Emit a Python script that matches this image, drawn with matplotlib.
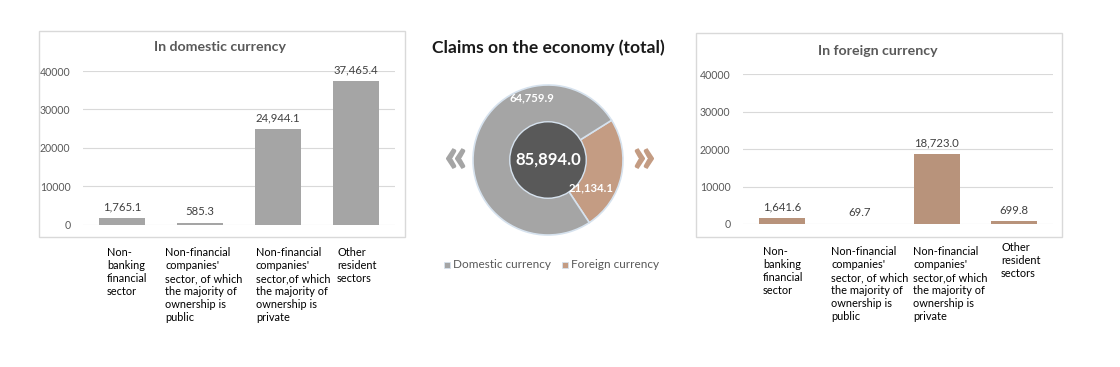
import matplotlib
matplotlib.use("Agg")
import matplotlib.pyplot as plt
from matplotlib.patches import Rectangle, Circle

plt.rcParams['font.family'] = ['Lato', 'DejaVu Sans']

# data
sectors = ["Non-\nbanking\nfinancial\nsector",
           "Non-financial\ncompanies'\nsector, of which\nthe majority of\nownership is\npublic",
           "Non-financial\ncompanies'\nsector,of which\nthe majority of\nownership is\nprivate",
           "Other\nresident\nsectors"]
domestic = [1765.1, 585.3, 24944.1, 37465.4]
foreign = [1641.6, 69.7, 18723.0, 699.8]
total_dom = 64759.9
total_for = 21134.1
total = 85894.0
yticks = [0, 10000, 20000, 30000, 40000]

GRAY = '#A5A5A5'
TAN = '#B8937B'
TAN_PIE = '#C49C83'
TXT = '#595959'

W, H = 1120, 367
fig = plt.figure(figsize=(W / 100, H / 100), dpi=100)


def px_axes(x0, y0, x1, y1):
    # pixel box (top-left origin) -> figure axes
    return fig.add_axes([x0 / W, 1 - y1 / H, (x1 - x0) / W, (y1 - y0) / H])


def box(x0, y0, x1, y1):
    fig.patches.append(Rectangle((x0 / W, 1 - y1 / H), (x1 - x0) / W, (y1 - y0) / H,
                                 transform=fig.transFigure, fill=False,
                                 edgecolor='#D9D9D9', linewidth=1))


def bar_panel(rect, values, color, title, title_xy, label_x, label_y):
    ax = px_axes(*rect)
    xs = range(len(values))
    ax.bar(xs, values, width=0.59, color=color, zorder=3)
    ax.set_xlim(-0.5, len(values) - 0.5)
    ax.set_ylim(0, 40000)
    ax.set_yticks(yticks)
    ax.set_yticklabels([str(t) for t in yticks])
    ax.set_xticks([])
    ax.grid(axis='y', color='#D9D9D9', linewidth=0.8, zorder=0)
    for s in ax.spines.values():
        s.set_visible(False)
    ax.tick_params(axis='y', length=0, labelsize=7.6, labelcolor=TXT, pad=9)
    for x, v in zip(xs, values):
        ax.annotate(f"{v:,.1f}", (x, v), xytext=(0, 4), textcoords='offset points',
                    ha='center', va='bottom', fontsize=8.2, color='#404040')
    fig.text(title_xy[0] / W, 1 - title_xy[1] / H, title, ha='center', va='center',
             fontsize=10.2, fontweight='bold', color=TXT)
    for lx, ly, lab in zip(label_x, label_y, sectors):
        fig.text(lx / W, 1 - ly / H, lab, ha='left', va='top', fontsize=7.9,
                 color='black', linespacing=1.22)


# left panel
box(39, 31, 405, 237)
bar_panel((83, 71, 395, 225), domestic, GRAY, "In domestic currency", (220, 47),
          [107, 165, 256, 337], [247, 247, 247, 247])

# right panel
box(696, 33, 1062, 237)
bar_panel((743, 74, 1053, 224), foreign, TAN, "In foreign currency", (878, 51),
          [763, 831, 913, 1001], [246, 246, 246, 242])

# donut
fig.text(548 / W, 1 - 48 / H, "Claims on the economy (total)", ha='center', va='center',
         fontsize=12.6, fontweight='bold', color='#1A1A1A')
pax = px_axes(548 - 90, 160 - 90, 548 + 90, 160 + 90)
pax.pie([total_for, total_dom], colors=[TAN_PIE, GRAY], startangle=32,
        counterclock=False, radius=1,
        wedgeprops=dict(width=0.5, edgecolor='#D6E2EE', linewidth=1.2))
pax.add_patch(Circle((0, 0), 0.51, facecolor='#595959', edgecolor='#D6E2EE',
                     linewidth=1, zorder=5))
pax.set_xlim(-1.2, 1.2)
pax.set_ylim(-1.2, 1.2)
pax.set_aspect('equal')
pax.axis('off')
pax.text(0, 0, f"{total:,.1f}", ha='center', va='center', fontsize=12,
         fontweight='bold', color='white', zorder=6)
pax.text(-0.22, 0.83, f"{total_dom:,.1f}", ha='center', va='center', fontsize=8.2,
         fontweight='bold', color='white', zorder=6)
pax.text(0.58, -0.37, f"{total_for:,.1f}", ha='center', va='center', fontsize=8.2,
         fontweight='bold', color='white', zorder=6)

# chevrons
fig.text(456 / W, 1 - 158 / H, "«", ha='center', va='center', fontsize=36,
         fontweight='heavy', color='#A5A5A5')
fig.text(643 / W, 1 - 158 / H, "»", ha='center', va='center', fontsize=36,
         fontweight='heavy', color=TAN_PIE)

# legend
for mx, col, lab in [(444, GRAY, "Domestic currency"), (562, TAN_PIE, "Foreign currency")]:
    fig.patches.append(Rectangle((mx / W, 1 - 268 / H), 6 / W, 6 / H,
                                 transform=fig.transFigure, facecolor=col,
                                 edgecolor='#D6E2EE', linewidth=0.6))
    fig.text((mx + 9) / W, 1 - 264 / H, lab, ha='left', va='center', fontsize=8.5,
             color=TXT)

fig.savefig("out.png", dpi=100, facecolor='white')
